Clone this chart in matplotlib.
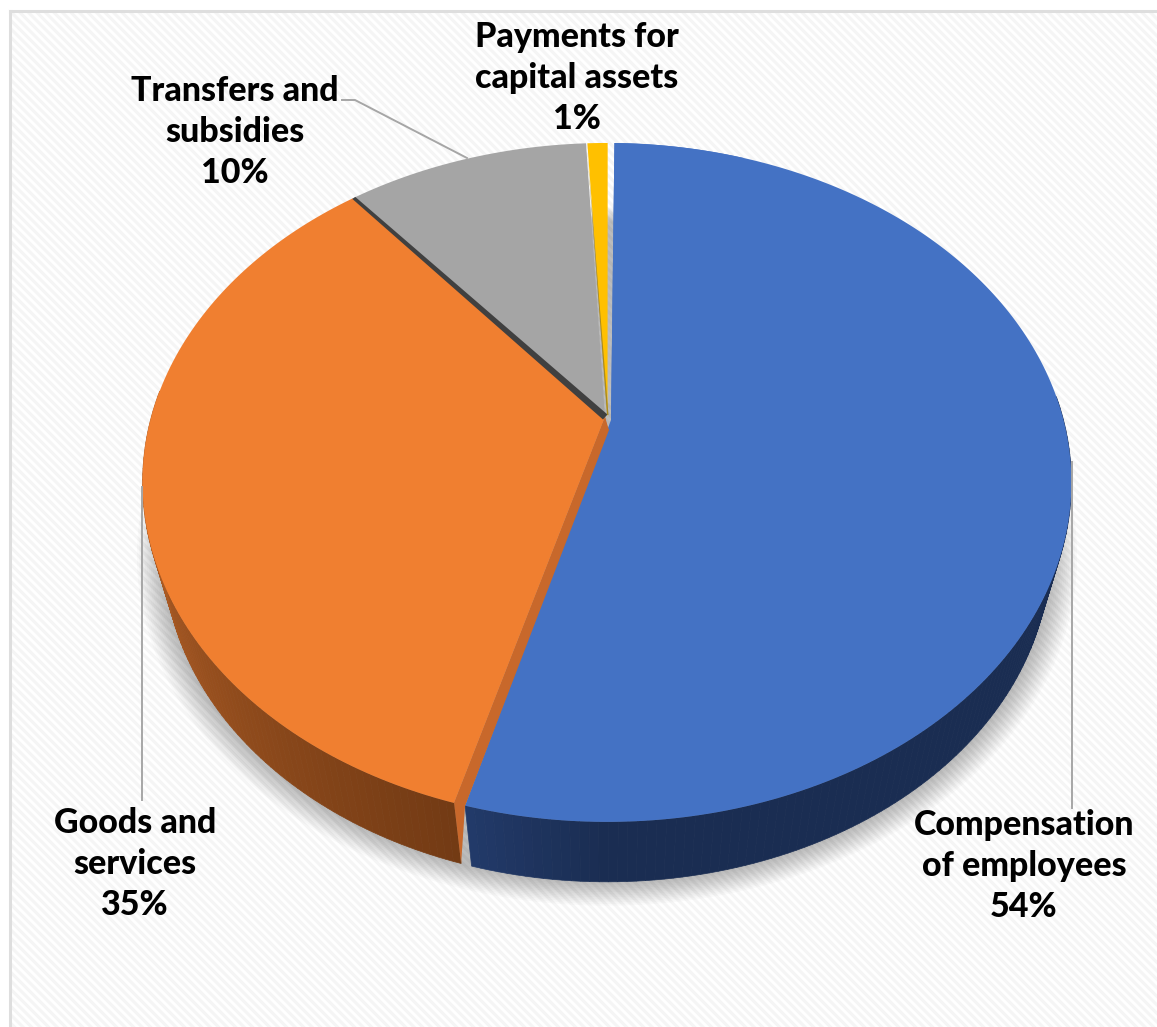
import numpy as np
import matplotlib
matplotlib.use("Agg")
import matplotlib.pyplot as plt
from matplotlib.collections import LineCollection
from matplotlib.patches import Rectangle

categories = ["Compensation\nof employees", "Goods and\nservices", "Transfers and\nsubsidies", "Payments for\ncapital assets"]
shares = [54, 35, 10, 1]
top_colors = ["#4472C4", "#F07F30", "#A5A5A5", "#FFC000"]

W, H = 1157, 1027
plt.rcParams["font.family"] = ["Lato", "DejaVu Sans"]

fig = plt.figure(figsize=(W / 100, H / 100), dpi=100)
ax = fig.add_axes([0, 0, 1, 1])
ax.set_xlim(0, W)
ax.set_ylim(H, 0)
ax.axis("off")

# perspective of the disc: top face and the narrower rim underneath it
cx = 607
tilt = 0.178
rotation = 0.5


def rim(theta, a=457, b=328.7, apex=422):
    t = np.radians(np.asarray(theta, dtype=float) + rotation)
    d = 1 + tilt * np.cos(t)
    return np.column_stack([cx + a * np.sin(t) / d, apex - b * np.cos(t) / d])


def lower_rim(theta):
    return rim(theta, a=436, b=318.8, apex=494)


def arc(a0, a1, n=200):
    return np.linspace(a0, a1, n)


# background: white page, faint diagonal stripes, grey frame
panel = Rectangle((10, 11), W, H, fc="white", ec="none", zorder=0)
ax.add_patch(panel)
stripes = [[(x, 11), (x + H, 11 + H)] for x in np.arange(-H, W, 8.5)]
lc = LineCollection(stripes, colors="#F5F5F5", linewidths=2.2, zorder=0.5)
ax.add_collection(lc)
lc.set_clip_path(panel)
ax.plot([10, 10], [11, H], color="#DEDEDE", lw=2.2, zorder=1)
ax.plot([10, W], [11, 11], color="#DEDEDE", lw=2.2, zorder=1)

edges = np.cumsum([0] + shares) * 3.6
seam_blue, seam_grey, seam_yellow = edges[1], edges[2], edges[3]

# soft shadow under the disc, widest layer first
full = arc(0, 360, 400)
for i in range(14, 0, -1):
    outline = rim(full, a=436 + i * 1.9, b=318.8 + i * 1.4, apex=494)
    ax.fill(outline[:, 0], outline[:, 1], color="black", alpha=0.018, lw=0, zorder=2)

# side wall, shaded strip by strip
gap_orange = 1.2
steps = arc(seam_blue + gap_orange, 275, 90)
for a0, a1 in zip(steps[:-1], steps[1:]):
    f = (a0 - seam_blue) / 75
    col = np.array([0x72, 0x3A, 0x14]) * (1 - f) + np.array([0xBC, 0x64, 0x28]) * f
    q = np.vstack([rim([a0, a1]), lower_rim([a1, a0])])
    ax.fill(q[:, 0], q[:, 1], color=col / 255, lw=0.5, zorder=3)
steps = arc(seam_blue, 85, 110)
for a0, a1 in zip(steps[:-1], steps[1:]):
    f = min((seam_blue - a0) / 14, 1)
    col = np.array([0x22, 0x3A, 0x69]) * (1 - f) + np.array([0x1A, 0x2D, 0x52]) * f
    q = np.vstack([rim([a0, a1]), lower_rim([a1, a0])])
    ax.fill(q[:, 0], q[:, 1], color=col / 255, lw=0.5, zorder=3)

hub = np.array([cx - 2, 417])
hub_blue = np.array([cx + 4, 420])

# light gap between the yellow and blue slices, fading toward the rim
gap_top = rim(0)[0]
for t0, t1, alpha in zip(arc(0.35, 0.95, 14)[:-1], arc(0.35, 0.95, 14)[1:], arc(0.05, 0.75, 13)):
    y0, y1 = gap_top[1] + (hub[1] - gap_top[1]) * t0, gap_top[1] + (hub[1] - gap_top[1]) * t1
    ax.fill([cx, cx + 5, cx + 5, cx], [y0, y0, y1, y1], color="#BFBFBF", alpha=alpha, lw=0, zorder=3.5)

# top faces of the slices
gaps = [(0.6, 0.0), (gap_orange, -0.2), (0.2, 0.0), (0.2, -0.4)]
hubs = [hub_blue, hub, hub, np.array([cx + 0.5, 418])]
for i, (c, (g_a, g_b), h) in enumerate(zip(top_colors, gaps, hubs)):
    rim_pts = rim(arc(edges[i] + g_a, edges[i + 1] + g_b))
    poly = np.vstack([h, rim_pts])
    ax.fill(poly[:, 0], poly[:, 1], color=c, lw=0, zorder=5)

# cut faces between the slices
a_edge, b_edge = rim(seam_blue + gap_orange)[0], rim(seam_blue)[0]
low = lower_rim(seam_blue + gap_orange)[0]
ax.fill(*np.array([hub, a_edge, low, b_edge, hub_blue + [-3, 12]]).T, color="#C8682B", lw=0, zorder=4.5)
ax.fill(*np.array([hub + [0, 0], a_edge, b_edge, hub_blue + [-2, 10]]).T, color="#C8682B", lw=0, zorder=5.2)
g_rim = rim(seam_grey)[0]
ax.fill(*np.array([g_rim + [1.5, -1], hub + [2.5, -2.5], hub + [-2, 2.5], g_rim + [-1.5, 1]]).T, color="#404040", lw=0, zorder=6)
y_rim = rim(seam_yellow + 0.1)[0]
ax.fill(*np.array([y_rim, hub + [2, -2], hub + [3.5, -2]]).T, color="#A98A20", lw=0, zorder=6)
ax.fill(*np.vstack([hub_blue, rim(arc(0.6, 20, 30))]).T, color=top_colors[0], lw=0, zorder=6)

# leader lines
ax.plot([342, 355, 467], [100, 100, 158], color="#A6A6A6", lw=1.4, zorder=7)
ax.plot([142, 142], [487, 800], color="#A6A6A6", lw=1.4, zorder=7)
ax.plot([1072, 1072], [462, 808], color="#A6A6A6", lw=1.4, zorder=7)

# slice labels
label_pos = [(1024, 866), (135, 864), (235, 132), (577, 78)]
for name, s, (x, y) in zip(categories, shares, label_pos):
    ax.text(x, y, f"{name}\n{s}%", ha="center", va="center", ma="center",
            fontsize=24.5, fontweight="black", color="black", linespacing=1.36, zorder=8)

fig.savefig("out.png", dpi=100)
